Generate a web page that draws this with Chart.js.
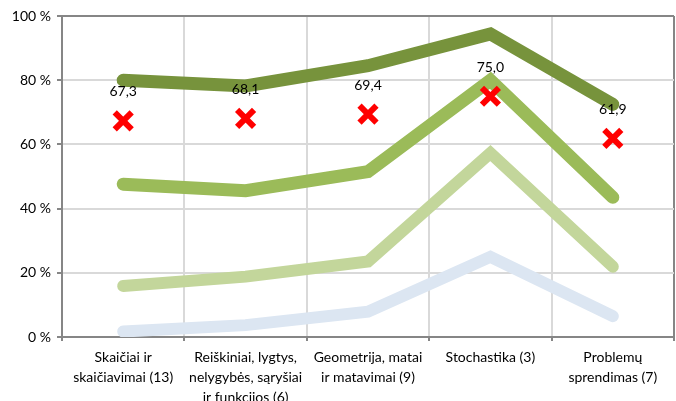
<!DOCTYPE html>
<html>
<head>
<meta charset="utf-8">
<script src="https://cdn.jsdelivr.net/npm/chart.js@4/dist/chart.umd.min.js"></script>
<style>
  html, body { margin: 0; padding: 0; background: #fff; }
  #wrap { width: 676px; height: 401px; }
</style>
</head>
<body>
<div id="wrap"><canvas id="chart" width="676" height="401"></canvas></div>
<script>
const categories = [
  ['Skaičiai ir', 'skaičiavimai (13)'],
  ['Reiškiniai, lygtys,', 'nelygybės, sąryšiai', 'ir funkcijos (6)'],
  ['Geometrija, matai', 'ir matavimai (9)'],
  ['Stochastika (3)'],
  ['Problemų', 'sprendimas (7)'],
];

const darkSeries = [80.0, 78.2, 84.5, 94.4, 72.5];
const mediumSeries = [47.6, 45.6, 51.5, 80.0, 43.5];
const lightSeries = [15.9, 18.8, 23.5, 57.3, 21.9];
const blueSeries = [1.7, 3.7, 7.9, 25.0, 6.5];
const averageSeries = [67.3, 68.1, 69.4, 75.0, 61.9];

const fontFamily = 'Lato, "Open Sans", sans-serif';
const frameColor = '#868686';
const gridColor = '#d9d9d9';

// writes the average value above each red cross
const valueLabels = {
  id: 'valueLabels',
  afterDatasetsDraw(chart) {
    const ctx = chart.ctx;
    const meta = chart.getDatasetMeta(0);
    ctx.save();
    ctx.font = '14px ' + fontFamily;
    ctx.fillStyle = '#000';
    ctx.textAlign = 'center';
    ctx.textBaseline = 'middle';
    meta.data.forEach((pt, i) => {
      const txt = averageSeries[i].toFixed(1).replace('.', ',');
      ctx.fillText(txt, pt.x, pt.y - 29);
    });
    ctx.restore();
  },
};

function lineSet(label, data, color, width) {
  return {
    label,
    data,
    borderColor: color,
    backgroundColor: color,
    borderWidth: width,
    borderCapStyle: 'round',
    borderJoinStyle: 'miter',
    pointRadius: 0,
    tension: 0,
    fill: false,
    order: 2,
  };
}

new Chart(document.getElementById('chart'), {
  type: 'line',
  data: {
    labels: categories,
    datasets: [
      {
        label: 'Vidurkis',
        data: averageSeries,
        showLine: false,
        pointStyle: 'crossRot',
        pointRadius: 12,
        pointBorderWidth: 6,
        pointBorderColor: '#ff0000',
        pointBackgroundColor: '#ff0000',
        order: 0,
      },
      lineSet('Aukštesnysis', darkSeries, '#77933c', 13),
      lineSet('Pagrindinis', mediumSeries, '#9bbb59', 13),
      lineSet('Patenkinamas', lightSeries, '#c3d69b', 12),
      lineSet('Nepasiektas', blueSeries, '#dce6f2', 12),
    ],
  },
  options: {
    responsive: false,
    animation: false,
    layout: { autoPadding: false, padding: { top: 16, right: 2, left: 0, bottom: 0 } },
    plugins: {
      legend: { display: false },
      tooltip: { enabled: false },
    },
    scales: {
      x: {
        offset: true,
        grid: {
          offset: true,
          // the extra closing line on the right has no tick: draw it as the frame
          color: ctx => (ctx.tick ? gridColor : frameColor),
          lineWidth: 2,
          drawTicks: true,
          tickLength: 4,
          tickColor: frameColor,
        },
        border: { color: frameColor, width: 2 },
        ticks: {
          color: '#000',
          padding: 6,
          maxRotation: 0,
          autoSkip: false,
          font: { family: fontFamily, size: 14, lineHeight: 1.45 },
        },
        afterFit(scale) { scale.height = 64; },
      },
      y: {
        min: 0,
        max: 100,
        grid: {
          color: ctx => (ctx.tick && ctx.tick.value === 100 ? frameColor : gridColor),
          lineWidth: 2,
          tickLength: 5,
          tickColor: ctx => (ctx.tick && ctx.tick.value % 20 === 0 ? frameColor : 'rgba(0,0,0,0)'),
        },
        border: { color: frameColor, width: 2 },
        ticks: {
          stepSize: 10,
          color: '#000',
          padding: 6,
          font: { family: fontFamily, size: 14 },
          callback: v => (v % 20 === 0 ? v + ' %' : null),
        },
        afterFit(scale) { scale.width = 62; },
      },
    },
  },
  plugins: [valueLabels],
});
</script>
</body>
</html>
